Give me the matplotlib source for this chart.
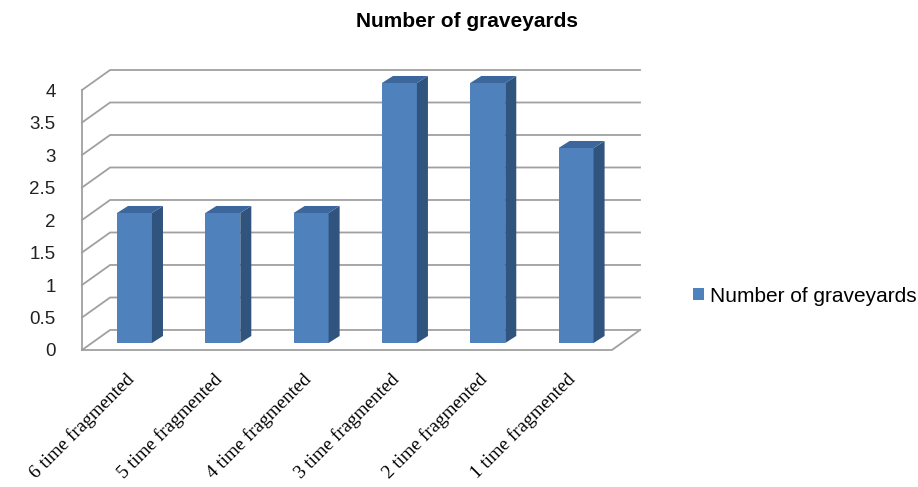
import matplotlib.pyplot as plt
from matplotlib.patches import Polygon, Patch

# Datos del grafico
categories = ["6 time fragmented", "5 time fragmented", "4 time fragmented",
              "3 time fragmented", "2 time fragmented", "1 time fragmented"]
graveyards = [2, 2, 2, 4, 4, 3]
y_ticks = [0, 0.5, 1, 1.5, 2, 2.5, 3, 3.5, 4]
y_labels = ["0", "0.5", "1", "1.5", "2", "2.5", "3", "3.5", "4"]
series_name = "Number of graveyards"

# Colores (estilo Excel 2007)
front_color = "#4F81BD"
side_color = "#31547F"
top_color = "#3C679C"
grid_color = "#A0A0A0"

# Efecto 3D: profundidad de pared y de barras (en unidades de datos)
DX, DY = 0.318, 0.308
bar_w = 0.396
bar_off_x, bar_off_y = -0.104, 0.108
bar_dx, bar_dy = 0.125, 0.108

fig = plt.figure(figsize=(9.18, 4.87), dpi=100)
ax = fig.add_axes([82 / 918, 137 / 487, 558 / 918, 280 / 487])
n = len(categories)
ax.set_xlim(-0.5, n - 0.5 + DX)
ax.set_ylim(0, y_ticks[-1] + DY)
for s in ax.spines.values():
    s.set_visible(False)

# Rejilla: pared izquierda + pared del fondo
for v in y_ticks:
    ax.plot([-0.5, -0.5 + DX, n - 0.5 + DX], [v, v + DY, v + DY],
            color=grid_color, lw=1.3, zorder=1, clip_on=False)
ax.plot([-0.5, -0.5], [0, y_ticks[-1]], color=grid_color, lw=1.3, zorder=1, clip_on=False)
# Suelo
ax.plot([-0.5, n - 0.5, n - 0.5 + DX], [0, 0, DY], color=grid_color, lw=1.3,
        zorder=1, clip_on=False)

# Barras 3D
for i, v in enumerate(graveyards):
    x0 = i + bar_off_x
    x1 = x0 + bar_w
    y0 = bar_off_y
    y1 = y0 + v
    front = Polygon([(x0, y0), (x1, y0), (x1, y1), (x0, y1)], closed=True,
                    facecolor=front_color, edgecolor="none", zorder=3)
    side = Polygon([(x1, y0), (x1 + bar_dx, y0 + bar_dy), (x1 + bar_dx, y1 + bar_dy),
                    (x1, y1)], closed=True, facecolor=side_color, edgecolor="none", zorder=3)
    top = Polygon([(x0, y1), (x1, y1), (x1 + bar_dx, y1 + bar_dy), (x0 + bar_dx, y1 + bar_dy)],
                  closed=True, facecolor=top_color, edgecolor="none", zorder=3)
    for p in (front, side, top):
        ax.add_patch(p)

# Ejes
ax.set_yticks(y_ticks)
ax.set_yticklabels(y_labels, fontfamily="Liberation Sans", fontsize=13.5, color="#222222")
ax.tick_params(axis="y", length=0, pad=19)
ax.set_xticks([i + 0.06 for i in range(n)])
ax.set_xticklabels(categories, rotation=45, ha="right", va="center",
                   rotation_mode="anchor", fontfamily="Liberation Serif", fontsize=13.8)
ax.tick_params(axis="x", length=0, pad=19)

fig.text(0.509, 0.955, "Number of graveyards", ha="center", va="center",
         fontfamily="Liberation Sans", fontweight="bold", fontsize=15)

ax.legend(handles=[Patch(facecolor=front_color, label=series_name)],
          loc="center left", bbox_to_anchor=(683 / 918, 0.392), bbox_transform=fig.transFigure,
          frameon=False, handlelength=0.5, handleheight=0.5, handletextpad=0.3,
          prop={"family": "Liberation Sans", "size": 15}, borderpad=0)

fig.savefig("out.png", dpi=100)
